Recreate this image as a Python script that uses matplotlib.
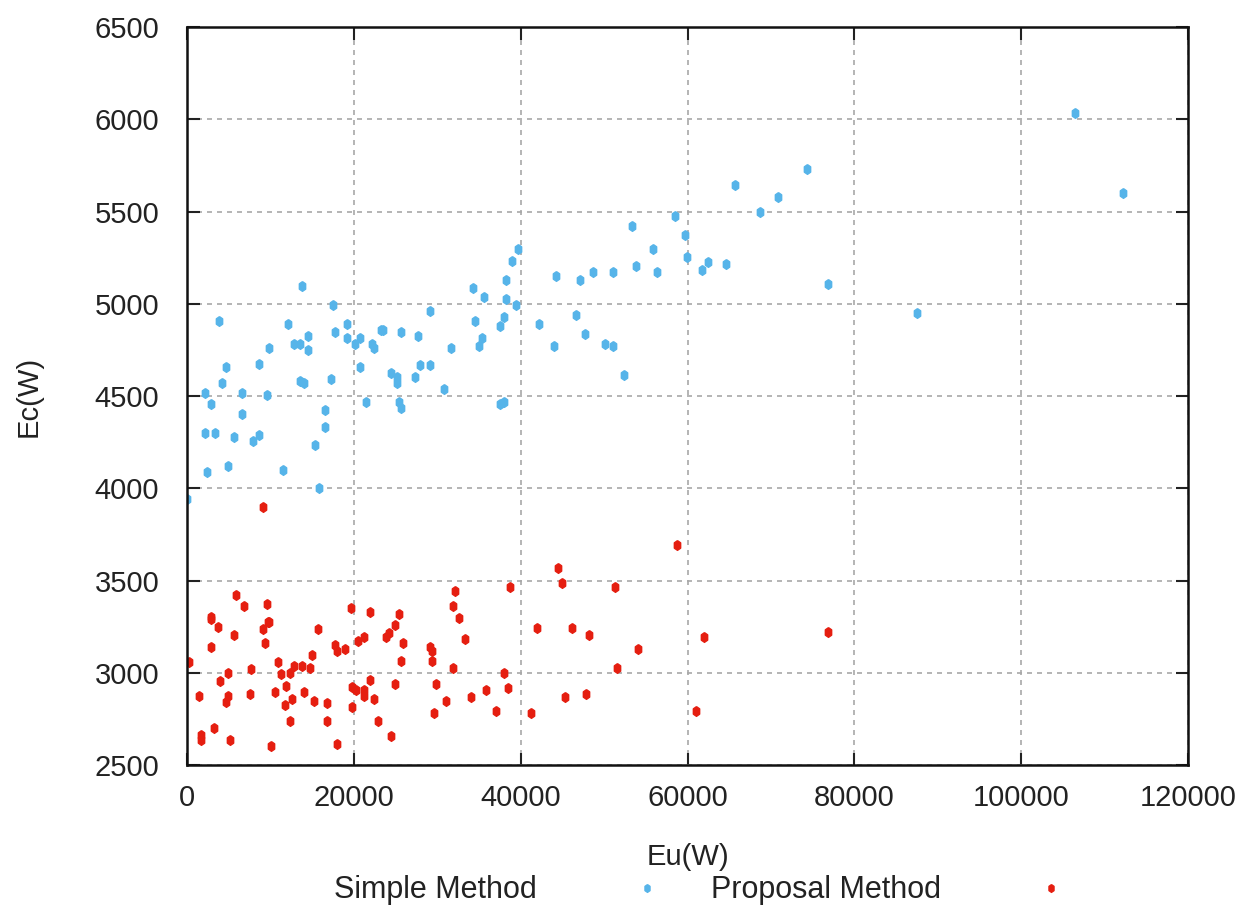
import matplotlib.pyplot as plt

plt.rcParams['font.family'] = ['Liberation Sans', 'DejaVu Sans']

# Simple Method points (Eu, Ec)
simple_eu = [0, 2122, 2158, 2362, 2841, 3321, 3800, 4236, 4715, 4955, 5634, 6557, 6557,
             7948, 8671, 8671, 9590, 9830, 11473, 12145, 12827, 13547, 13547, 13823, 14026,
             14466, 14466, 15381, 15860, 16543, 16543, 17263, 17503, 17742, 19145, 19145,
             20100, 20775, 20775, 21494, 22178, 22418, 23300, 23550, 24455, 25175, 25175,
             25414, 25654, 25654, 27298, 27730, 27970, 29131, 29131, 30773, 31684, 34249,
             34489, 34969, 35401, 35641, 37523, 37523, 37963, 38002, 38242, 38242, 38926,
             39406, 39646, 42198, 44036, 44236, 46597, 47077, 47749, 48707, 50073, 51032,
             51032, 52425, 53384, 53827, 55901, 56380, 58502, 59665, 59905, 61738, 62457,
             64579, 65731, 68732, 70808, 74326, 76881, 87549, 106454, 112246]
simple_ec = [3942, 4299, 4518, 4088, 4457, 4299, 4908, 4572, 4656, 4119, 4278, 4518, 4402,
             4256, 4675, 4289, 4507, 4760, 4099, 4889, 4782, 4782, 4583, 5098, 4572,
             4824, 4749, 4234, 4003, 4424, 4330, 4592, 4993, 4845, 4889, 4813,
             4782, 4813, 4656, 4466, 4782, 4760, 4856, 4856, 4625, 4603, 4572,
             4466, 4845, 4435, 4603, 4824, 4666, 4962, 4666, 4540, 4762, 5087,
             4908, 4771, 4814, 5035, 4878, 4457, 4467, 4930, 5129, 5024, 5233,
             4992, 5297, 4889, 4771, 5151, 4938, 5129, 4834, 5170, 4782, 5170,
             4771, 4614, 5423, 5203, 5297, 5170, 5477, 5371, 5255, 5181, 5225,
             5214, 5644, 5496, 5580, 5729, 5109, 4950, 6034, 5602]

# Proposal Method points (Eu, Ec)
proposal_eu = [280, 1439, 1678, 1678, 2841, 2841, 2841, 3273, 3752, 3992, 4711, 4915, 4951,
               5155, 5634, 5874, 6797, 7516, 7708, 9111, 9151, 9351, 9590, 9674, 9870,
               10034, 10514, 10946, 11233, 11713, 11905, 12384, 12384, 12624, 12864, 13786,
               14026, 14746, 14985, 15189, 15668, 16819, 16819, 17742, 17982, 17982, 18905,
               19625, 19817, 19817, 20296, 20535, 21219, 21219, 21219, 21938, 21938, 22418,
               22862, 23821, 24251, 24491, 24971, 24971, 25414, 25654, 25894, 29131, 29371,
               29371, 29610, 29850, 31013, 31924, 31924, 32163, 32643, 33327, 34046, 35881,
               37079, 38002, 38446, 38686, 41238, 41957, 44512, 44991, 45271, 46155, 47797,
               48231, 51272, 51512, 54066, 58705, 61019, 61978, 76843]
proposal_ec = [3057, 2876, 2663, 2636, 3304, 3290, 3141, 2699, 3246, 2957, 2843, 3000, 2876,
               2636, 3203, 3423, 3364, 2887, 3022, 3236, 3897, 3161, 3371, 3277, 3277,
               2603, 2897, 3057, 2993, 2824, 2930, 3000, 2740, 2856, 3037, 3037,
               2897, 3024, 3098, 2845, 3236, 2834, 2740, 3152, 3119, 2614, 3129,
               3351, 2921, 2813, 2908, 3170, 3192, 2906, 2876, 3329, 2961, 2856,
               2740, 3192, 3214, 2657, 3257, 2939, 3318, 3066, 3161, 3141, 3119,
               3066, 2780, 2939, 2845, 3360, 3024, 3445, 3298, 3181, 2867, 2906,
               2793, 3000, 2919, 3466, 2780, 3244, 3569, 3487, 2867, 3244, 2887,
               3203, 3466, 3024, 3129, 3690, 2793, 3195, 3221]

# small elongated point, like gnuplot's filled dots
pt = [(0, 1), (0.65, 0.55), (0.65, -0.55), (0, -1), (-0.65, -0.55), (-0.65, 0.55), (0, 1)]

fig = plt.figure(figsize=(12.5, 9.15), dpi=100)
ax = fig.add_axes([0.1496, 0.1639, 0.8008, 0.8066])

ax.plot(simple_eu, simple_ec, linestyle='none', marker=pt, markersize=7,
        color='#56b4e9', label='Simple Method')
ax.plot(proposal_eu, proposal_ec, linestyle='none', marker=pt, markersize=7,
        color='#e51e10', label='Proposal Method')

ax.set_xlim(0, 120000)
ax.set_ylim(2500, 6500)
ax.set_xticks(range(0, 120001, 20000))
ax.set_yticks(range(2500, 6501, 500))
ax.grid(True, color='#a8a8a8', linestyle=(0, (3, 3)), linewidth=1.2)
ax.set_axisbelow(True)
ax.tick_params(direction='in', length=9, width=1.5, labelsize=21, colors='#222222',
               top=True, right=True)
ax.tick_params(axis='y', pad=20)
ax.tick_params(axis='x', pad=14)
for s in ax.spines.values():
    s.set_linewidth(1.8)
    s.set_color('#111111')

ax.set_xlabel('Eu(W)', fontsize=21, color='#222222', labelpad=22)
ax.set_ylabel('Ec(W)', fontsize=21, color='#222222', labelpad=37)

fig.legend(loc='center', bbox_to_anchor=(0.566, 0.027), ncol=2, frameon=False,
           markerfirst=False, fontsize=22, handlelength=2, handletextpad=2.6,
           columnspacing=1.1, markerscale=0.8, labelcolor='#222222')

fig.savefig('out.png', dpi=100)
